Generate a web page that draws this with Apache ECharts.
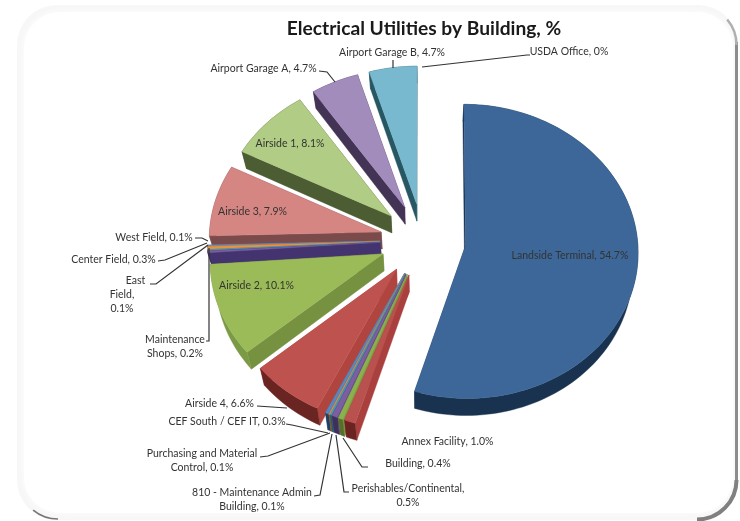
<!DOCTYPE html>
<html>
<head>
<meta charset="utf-8">
<style>html,body{margin:0;padding:0;background:#fff}#chart{width:740px;height:521px}</style>
<script src="https://cdn.jsdelivr.net/npm/echarts@6/dist/echarts.min.js"></script>
</head>
<body>
<div id="chart"></div>
<script>
// Share of electrical utilities per building, in percent, clockwise from 12 o'clock.
const buildings = [
  'Landside Terminal', 'Annex Facility', 'Building', 'Perishables/Continental',
  '810 - Maintenance Admin\nBuilding', 'Purchasing and Material\nControl', 'CEF South / CEF IT',
  'Airside 4', 'Airside 2', 'Maintenance\nShops', '\u00a0\u00a0\u00a0\u00a0\u00a0\u00a0\u00a0\u00a0\u00a0\u00a0East\nField',
  'Center Field', 'West Field', 'Airside 3', 'Airside 1', 'Airport Garage A', 'Airport Garage B', 'USDA Office'
];
const shares = [54.7, 1.0, 0.4, 0.5, 0.1, 0.1, 0.3, 6.6, 10.1, 0.2, 0.1, 0.3, 0.1, 7.9, 8.1, 4.7, 4.7, 0];

// Slice paint: top face, cut wall, outer rim wall.
const faceColors = ['#3c6798','#b9524f','#8db04f','#7b5fa0','#45a0b8','#e98e3e','#5b86bb','#bd524e','#9bbb59',
  '#7a5fa0','#48a5bd','#e8923f','#6a8fbd','#d58683','#b1cc84','#a28cbc','#78b9d0','#e8923f'];
const cutColors = ['#16304f','#a9403e','#7b9a42','#5a4480','#2f7c90','#c26f28','#44699a','#b0453f','#76913f',
  '#43336e','#2f7c90','#c26f28','#44699a','#7b4a4a','#4c5c33','#433355','#265763','#c26f28'];
const rimColors = ['#18324f','#6a2321','#56702c','#3f2f5e','#1f5a6b','#8a4f1a','#1f3f66','#6a2422','#7a9a45',
  '#3f2f5e','#1f5a6b','#8a4f1a','#1f3f66','#7b4a4a','#4c5c33','#433355','#265763','#8a4f1a'];

// Text anchor (centre) and leader path for each slice's label.
const labelSpots = [
  {at:[570,256], sep:', '},
  {at:[447.5,442], sep:', '},
  {at:[418,464], sep:', ', leader:[[368,467],[362,467],[343,438]]},
  {at:[408,496], sep:',\n', leader:[[349,492],[344,492],[336,435]]},
  {at:[252,499.5], sep:', ', leader:[[314,496],[320,495],[332,434]]},
  {at:[202,461], sep:', ', leader:[[260,457],[268,456],[330,433]]},
  {at:[227,422], sep:', ', leader:[[286,424],[292,425],[328,433]]},
  {at:[219.5,404], sep:', ', leader:[[257,406],[287,408]]},
  {at:[256.5,286], sep:', '},
  {at:[175,346.5], sep:', ', leader:[[206,341],[209,341],[209,248]]},
  {at:[122,295], sep:',\n', leader:[[150,284],[156,284],[208,245]]},
  {at:[113.5,260], sep:', ', leader:[[158,261],[165,260],[207,243]]},
  {at:[154,238], sep:', ', leader:[[195,238],[202,238],[208,241]]},
  {at:[252.5,212], sep:', '},
  {at:[290,144], sep:', '},
  {at:[263.5,69], sep:', ', leader:[[319,71],[327,72],[335,82]]},
  {at:[392,53], sep:', ', leader:[[393,60],[393,68]]},
  {at:[569,52], sep:', ', leader:[[422,67],[527,55],[530,55]]}
];

// Exploded, tilted pie projection. The underside is slightly narrower than the top.
const pie = {cx:423, cy:240, radius:172, explode:43, tilt:0.851, persp:0.0404, depth:17, underside:0.975};
const font = 'Lato, "Open Sans", sans-serif';

function project(X, Y) {
  const w = 1 / (1 - pie.persp * Y / pie.radius);
  return [pie.cx + X * w, pie.cy + pie.tilt * Y * w];
}
const drop = p => [pie.cx + (p[0] - pie.cx) * pie.underside, p[1] + pie.depth];
const shareText = v => (v === 0 ? '0' : v.toFixed(1)) + '%';

function renderSlice(params, api) {
  const i = params.dataIndex;
  const a0 = api.value(0), a1 = api.value(1), share = api.value(2);
  const mid = (a0 + a1) / 2;
  const ox = pie.explode * Math.sin(mid), oy = -pie.explode * Math.cos(mid);
  const children = [];
  if (share > 0) {
    const z2 = 1000 + Math.round(-Math.cos(mid) * 900);
    const apex = project(ox, oy);
    const steps = Math.max(2, Math.ceil((a1 - a0) / 0.03));
    const rim = [];
    for (let s = 0; s <= steps; s++) {
      const t = a0 + (a1 - a0) * s / steps;
      rim.push(project(ox + pie.radius * Math.sin(t), oy - pie.radius * Math.cos(t)));
    }
    const quad = (p, q, fill) => ({type:'polygon', z2, shape:{points:[p, q, drop(q), drop(p)]},
      style:{fill, stroke:fill, lineWidth:0.4}});
    children.push(quad(apex, rim[0], cutColors[i]));
    children.push(quad(apex, rim[rim.length - 1], cutColors[i]));
    children.push({type:'polygon', z2, shape:{points:rim.concat(rim.map(drop).reverse())},
      style:{fill:rimColors[i], stroke:rimColors[i], lineWidth:0.4}});
    children.push({type:'polygon', z2, shape:{points:[apex].concat(rim)},
      style:{fill:faceColors[i], stroke:faceColors[i], lineWidth:0.4}});
  }
  const spot = labelSpots[i];
  if (spot.leader) {
    children.push({type:'polyline', z2:4000, shape:{points:spot.leader},
      style:{fill:null, stroke:'#333333', lineWidth:1.2}});
  }
  children.push({type:'text', z2:5000, x:spot.at[0], y:spot.at[1],
    style:{text:buildings[i] + spot.sep + shareText(share), align:'center', verticalAlign:'middle',
      fontFamily:font, fontSize:10.5, lineHeight:14, fill:'#333333'}});
  return {type:'group', children};
}

const total = shares.reduce((a, b) => a + b, 0);
let running = 0;
const sliceData = shares.map((v, i) => {
  const start = running / total * Math.PI * 2;
  running += v;
  return {name:buildings[i], value:[start, running / total * Math.PI * 2, v]};
});

const chart = echarts.init(document.getElementById('chart'), null, {renderer:'canvas'});
chart.setOption({
  animation:false,
  backgroundColor:'#ffffff',
  title:{text:'Electrical Utilities by Building, %', left:419, top:14, textAlign:'center',
    textStyle:{fontFamily:font, fontWeight:'bold', fontSize:19.2, color:'#1a1a1a'}},
  graphic:[
    {type:'rect', z:-10, shape:{x:17, y:5, width:721, height:515, r:40}, style:{fill:'#f7f7f7'}},
    {type:'rect', z:-9, shape:{x:24, y:12, width:709, height:501, r:36},
      style:{fill:'#ffffff', shadowColor:'#ffffff', shadowBlur:6}},
    {type:'line', z:-8, shape:{x1:736.5, y1:42, x2:736.5, y2:480}, style:{stroke:'#8c8c8c', lineWidth:3}},
    {type:'arc', z:-8, shape:{cx:697, cy:480, r:39.5, startAngle:0, endAngle:Math.PI * 0.5, clockwise:true},
      style:{fill:null, stroke:'#808080', lineWidth:4}},
    {type:'arc', z:-8, shape:{cx:697, cy:45, r:39.5, startAngle:-0.7, endAngle:0, clockwise:true},
      style:{fill:null, stroke:'#b0b0b0', lineWidth:2.5}},
    {type:'arc', z:-8, shape:{cx:58, cy:480, r:39, startAngle:Math.PI * 0.5, endAngle:Math.PI * 0.72, clockwise:true},
      style:{fill:null, stroke:'#777777', lineWidth:1.6}}
  ],
  series:[{
    type:'custom',
    coordinateSystem:'none',
    silent:true,
    clip:false,
    renderItem:renderSlice,
    encode:{},
    data:sliceData
  }]
});
</script>
</body>
</html>
